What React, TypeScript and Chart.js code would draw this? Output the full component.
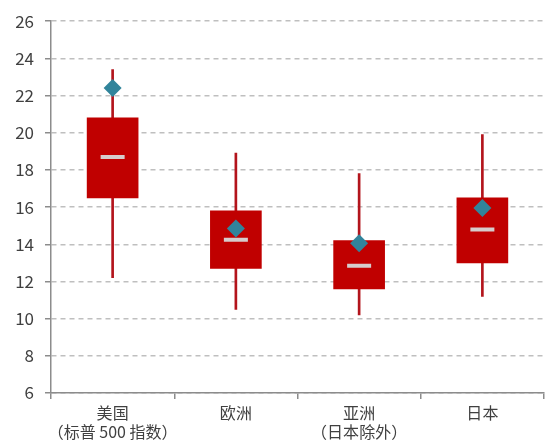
import { useEffect, useRef } from 'react'
import { Chart, registerables } from 'chart.js'

Chart.register(...registerables)

const categories = [['美国', '（标普 500 指数）'], '欧洲', ['亚洲', '（日本除外）'], '日本']
const whiskerLow = [12.2, 10.5, 10.2, 11.2]
const whiskerHigh = [23.4, 18.9, 17.8, 19.9]
const boxLow = [16.5, 12.7, 11.6, 13.0]
const boxHigh = [20.8, 15.8, 14.2, 16.5]
const medians = [18.7, 14.25, 12.85, 14.8]
const currents = [22.4, 14.85, 14.05, 15.95]
const yTicks = [6, 8, 10, 12, 14, 16, 18, 20, 22, 24, 26]

const FONT = "'Noto Sans CJK SC', 'Noto Sans', sans-serif"

export default function App() {
  const chartRef = useRef<HTMLCanvasElement>(null)
  const chartInstance = useRef<Chart | null>(null)

  useEffect(() => {
    if (!chartRef.current) return

    const config: any = {
      type: 'bar',
      data: {
        labels: categories,
        datasets: [
          {
            type: 'line',
            label: '当前',
            data: currents,
            showLine: false,
            pointStyle: 'rectRot',
            pointRadius: 9,
            pointBackgroundColor: '#31849B',
            pointBorderWidth: 0,
            order: 0
          },
          {
            type: 'line',
            label: '中位数',
            data: medians,
            showLine: false,
            pointStyle: 'line',
            pointRadius: 12,
            pointBorderColor: '#D6CCCC',
            pointBorderWidth: 4,
            order: 1
          },
          {
            label: '区间',
            data: boxLow.map((v, i) => [v, boxHigh[i]]),
            backgroundColor: '#C00000',
            barThickness: 51,
            grouped: false,
            order: 2
          },
          {
            label: '范围',
            data: whiskerLow.map((v, i) => [v, whiskerHigh[i]]),
            backgroundColor: '#B3141C',
            barThickness: 2,
            grouped: false,
            order: 3
          }
        ]
      },
      options: {
        responsive: true,
        maintainAspectRatio: false,
        animation: false,
        layout: { padding: { top: 20, right: 10, left: 0, bottom: 0 } },
        plugins: {
          legend: { display: false },
          tooltip: { enabled: false }
        },
        scales: {
          x: {
            grid: { drawOnChartArea: false, offset: true, tickLength: 6, color: '#8C8C8C', lineWidth: 1.5 },
            border: { color: '#8C8C8C', width: 1.5 },
            ticks: { color: '#404040', font: { family: FONT, size: 16 }, padding: 4, maxRotation: 0, autoSkip: false },
            afterFit: (scale: any) => {
              scale.height = 53
              scale.paddingLeft = 0
              scale.paddingRight = 0
            }
          },
          y: {
            min: 6,
            max: 26,
            afterBuildTicks: (scale: any) => { scale.ticks = yTicks.map(v => ({ value: v })) },
            grid: { color: '#BFBFBF', lineWidth: 1.5, tickLength: 6, tickColor: '#8C8C8C', tickBorderDash: [] },
            border: { color: '#8C8C8C', width: 1.5, dash: [5, 4] },
            ticks: { color: '#404040', font: { family: FONT, size: 17 }, padding: 11 },
            afterFit: (scale: any) => { scale.width = 51 }
          }
        }
      }
    }

    if (chartInstance.current) {
      chartInstance.current.destroy()
    }
    chartInstance.current = new Chart(chartRef.current, config)

    return () => {
      if (chartInstance.current) {
        chartInstance.current.destroy()
        chartInstance.current = null
      }
    }
  }, [])

  return (
    <div style={{ position: 'absolute', left: 0, top: 0, width: 560, height: 446, background: '#fff' }}>
      <canvas ref={chartRef} />
    </div>
  )
}
